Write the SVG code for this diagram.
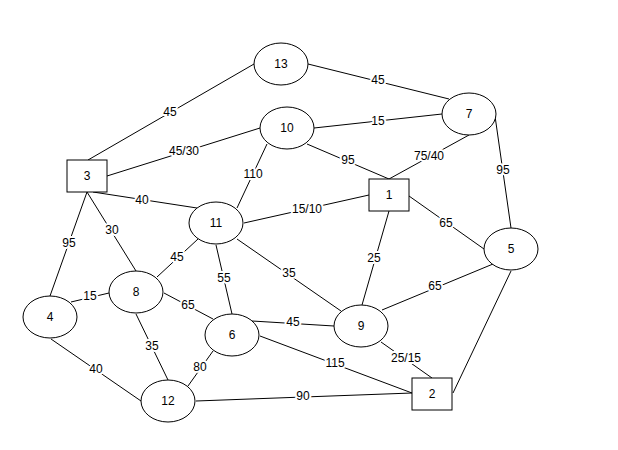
<svg xmlns="http://www.w3.org/2000/svg" width="618" height="450" viewBox="0 0 618 450">
<style>
.n{fill:#fff;stroke:#000;stroke-width:1}
.e line{stroke:#000;stroke-width:1}
text{font-family:"Liberation Sans",Arial,sans-serif;font-size:12px;fill:#000;text-anchor:middle;dominant-baseline:central}
.l{stroke:#fff;stroke-width:4;paint-order:stroke;stroke-linejoin:round}
</style>
<rect width="618" height="450" fill="#fff"/>
<g id="connectors" class="e">
<line x1="88" y1="160" x2="254" y2="64"/>
<line x1="308" y1="64" x2="449" y2="99"/>
<line x1="107" y1="176" x2="260" y2="128"/>
<line x1="314" y1="128" x2="442" y2="114"/>
<line x1="307" y1="144" x2="389" y2="179"/>
<line x1="469" y1="135" x2="389" y2="179"/>
<line x1="495" y1="116" x2="511" y2="228"/>
<line x1="93" y1="192" x2="197" y2="208"/>
<line x1="267" y1="144" x2="237" y2="208"/>
<line x1="244" y1="223" x2="369" y2="195"/>
<line x1="409" y1="196" x2="484" y2="249"/>
<line x1="389" y1="211" x2="362" y2="305"/>
<line x1="237" y1="239" x2="341" y2="311"/>
<line x1="382" y1="310" x2="493" y2="264"/>
<line x1="87" y1="192" x2="50" y2="296"/>
<line x1="87" y1="192" x2="136" y2="271"/>
<line x1="198" y1="239" x2="157" y2="277"/>
<line x1="216" y1="245" x2="232" y2="314"/>
<line x1="71" y1="302" x2="109" y2="293"/>
<line x1="164" y1="293" x2="213" y2="319"/>
<line x1="252" y1="321" x2="334" y2="326"/>
<line x1="260" y1="336" x2="412" y2="393"/>
<line x1="381" y1="342" x2="432" y2="378"/>
<line x1="511" y1="271" x2="453" y2="393"/>
<line x1="51" y1="339" x2="141" y2="401"/>
<line x1="136" y1="314" x2="168" y2="380"/>
<line x1="213" y1="351" x2="188" y2="386"/>
<line x1="196" y1="401" x2="412" y2="393"/>
<text class="l" x="170" y="112">45</text>
<text class="l" x="378" y="80">45</text>
<text class="l" x="184" y="151">45/30</text>
<text class="l" x="378" y="121">15</text>
<text class="l" x="348" y="160">95</text>
<text class="l" x="429" y="156">75/40</text>
<text class="l" x="503" y="170">95</text>
<text class="l" x="142" y="200">40</text>
<text class="l" x="253" y="174">110</text>
<text class="l" x="307" y="209">15/10</text>
<text class="l" x="446" y="223">65</text>
<text class="l" x="374" y="258">25</text>
<text class="l" x="289" y="273">35</text>
<text class="l" x="435" y="286">65</text>
<text class="l" x="69" y="243">95</text>
<text class="l" x="112" y="230">30</text>
<text class="l" x="177" y="257">45</text>
<text class="l" x="224" y="278">55</text>
<text class="l" x="90" y="296">15</text>
<text class="l" x="188" y="305">65</text>
<text class="l" x="293" y="322">45</text>
<text class="l" x="335" y="363">115</text>
<text class="l" x="406" y="358">25/15</text>
<text class="l" x="96" y="369">40</text>
<text class="l" x="152" y="346">35</text>
<text class="l" x="200" y="367">80</text>
<text class="l" x="303" y="396">90</text>
</g>
<g id="node1"><rect class="n" x="369" y="179" width="40" height="32"/><text x="389" y="195">1</text></g>
<g id="node2"><rect class="n" x="412" y="378" width="40" height="32"/><text x="432" y="394">2</text></g>
<g id="node3"><rect class="n" x="67" y="160" width="40" height="32"/><text x="87" y="176">3</text></g>
<g id="node4"><ellipse class="n" cx="50" cy="317" rx="27" ry="21"/><text x="50" y="317">4</text></g>
<g id="node5"><ellipse class="n" cx="511" cy="249" rx="27" ry="21"/><text x="511" y="249">5</text></g>
<g id="node6"><ellipse class="n" cx="232" cy="335" rx="27" ry="21"/><text x="232" y="335">6</text></g>
<g id="node7"><ellipse class="n" cx="469" cy="114" rx="27" ry="21"/><text x="469" y="114">7</text></g>
<g id="node8"><ellipse class="n" cx="136" cy="292" rx="27" ry="21"/><text x="136" y="292">8</text></g>
<g id="node9"><ellipse class="n" cx="361" cy="326" rx="27" ry="21"/><text x="361" y="326">9</text></g>
<g id="node10"><ellipse class="n" cx="287" cy="128" rx="27" ry="21"/><text x="287" y="128">10</text></g>
<g id="node11"><ellipse class="n" cx="216" cy="223" rx="27" ry="21"/><text x="216" y="223">11</text></g>
<g id="node12"><ellipse class="n" cx="168" cy="401" rx="27" ry="21"/><text x="168" y="401">12</text></g>
<g id="node13"><ellipse class="n" cx="281" cy="64" rx="27" ry="21"/><text x="281" y="64">13</text></g>
</svg>
